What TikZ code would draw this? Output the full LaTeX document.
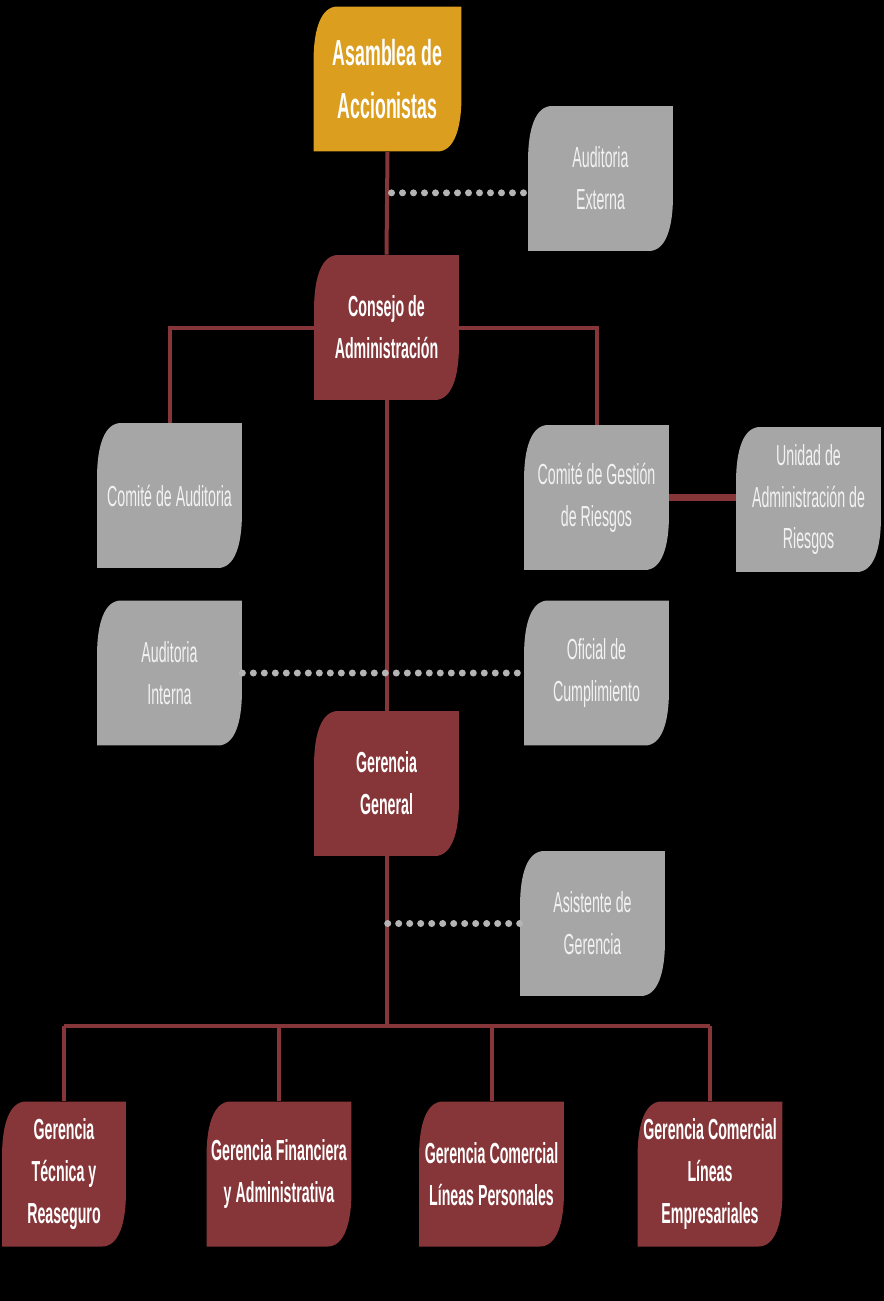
\documentclass[tikz,border=0pt]{standalone}
\usepackage{fontspec}
\setmainfont{Liberation Sans}[FakeStretch=0.49]
\definecolor{vino}{HTML}{863538}
\definecolor{oro}{HTML}{DB9E1F}
\definecolor{gris}{HTML}{A6A6A6}
\definecolor{puntos}{HTML}{B4B4B4}
\tikzset{
  caja/.style={minimum width=2.9cm, minimum height=2.9cm, inner sep=0pt, align=center,
    font=\fontsize{16.5}{23.9}\selectfont,
    path picture={\fill[#1] (path picture bounding box.south west)
      -- ([yshift=-1.1cm]path picture bounding box.north west)
      .. controls ([yshift=-0.45cm]path picture bounding box.north west) and ([xshift=0.15cm]path picture bounding box.north west)
      .. ([xshift=0.48cm]path picture bounding box.north west)
      -- (path picture bounding box.north east)
      -- ([yshift=1.1cm]path picture bounding box.south east)
      .. controls ([yshift=0.45cm]path picture bounding box.south east) and ([xshift=-0.15cm]path picture bounding box.south east)
      .. ([xshift=-0.48cm]path picture bounding box.south east) -- cycle;}},
  jefe/.style={caja=vino, text=white, font=\fontsize{16.5}{23.9}\selectfont\bfseries},
  apoyo/.style={caja=gris, text=white!95!black},
  linea/.style={draw=vino, line width=0.08cm},
  punteado/.style={draw=puntos, line width=0.14cm, line cap=round, dash pattern=on 0pt off 0.22cm},
}
\begin{document}
\begin{tikzpicture}[x=0.02cm, y=-0.02cm]
        \fill[black] (0,0) rectangle (884,1301);
        % cuerpo directivo
        \node[caja=oro, text=white, minimum width=2.96cm, font=\fontsize{20.6}{30}\selectfont\bfseries] (asamblea) at (387.5,79) {Asamblea de\\Accionistas};
        \node[apoyo] (externa) at (600.5,178.5) {Auditoria\\Externa};
        \node[jefe] (consejo) at (386.5,327.5) {Consejo de\\Administración};
        \node[apoyo] (cauditoria) at (169.5,495.5) {Comité de Auditoria};
        \node[apoyo] (cgestion) at (596.5,497.5) {Comité de Gestión\\de Riesgos};
        \node[apoyo] (unidad) at (808.5,499.5) {Unidad de\\Administración de\\Riesgos};
        \node[apoyo] (ainterna) at (169.5,673) {Auditoria\\Interna};
        \node[apoyo] (oficial) at (596.5,673) {Oficial de\\Cumplimiento};
        \node[jefe] (ggeneral) at (386.5,783.5) {Gerencia\\General};
        \node[apoyo] (asistente) at (592.5,923.5) {Asistente de\\Gerencia};
        % gerencias
        \node[jefe, minimum width=2.48cm] (tecnica) at (64,1174) {Gerencia\\Técnica y\\Reaseguro};
        \node[jefe] (financiera) at (279,1174) {Gerencia Financiera\\y Administrativa};
        \node[jefe] (personales) at (491.5,1174) {Gerencia Comercial\\Líneas Personales};
        \node[jefe] (empresariales) at (710,1174) {Gerencia Comercial\\Líneas\\Empresariales};
        % conectores
        \draw[linea] (asamblea.south) -- (consejo.north);
        \draw[linea] (consejo.west) -| (cauditoria.north);
        \draw[linea] (consejo.east) -| (cgestion.north);
        \draw[linea] (consejo.south) -- (ggeneral.north);
        \draw[linea, line width=0.15cm] (cgestion.east) -- (cgestion.east -| unidad.west);
        \path (ggeneral.south) ++(0,170) coordinate (bus);
        \draw[linea] (ggeneral.south) -- (bus);
        \draw[linea] (bus -| tecnica.north) -- (bus -| empresariales.north);
        \foreach \g in {tecnica,financiera,personales,empresariales}
          \draw[linea] (bus -| \g.north) -- (\g.north);
        \path (asamblea.south) ++(4,41) coordinate (p1);
        \draw[punteado] (p1) -- (p1 -| externa.west);
        \draw[punteado] (ainterna.east) -- (oficial.west);
        \draw[punteado] (asistente.west) -- (asistente.west -| ggeneral.south);
\end{tikzpicture}
\end{document}
